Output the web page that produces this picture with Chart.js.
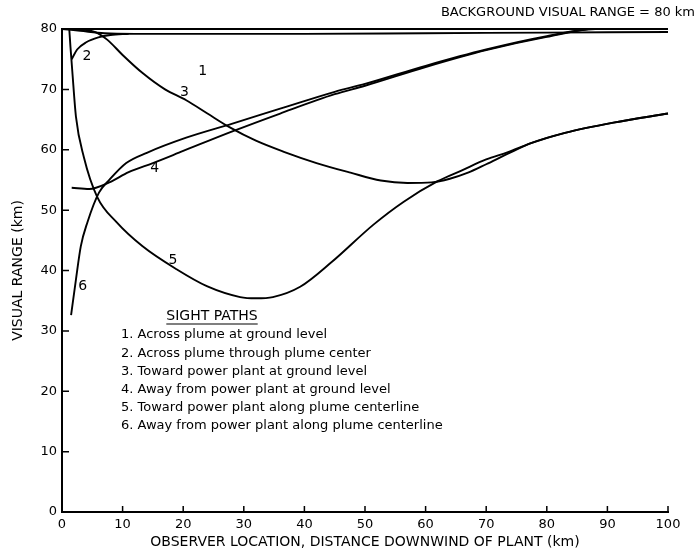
<!DOCTYPE html>
<html>
<head>
<meta charset="utf-8">
<script src="https://cdn.jsdelivr.net/npm/chart.js@4/dist/chart.umd.min.js"></script>
<style>
  html, body { margin: 0; padding: 0; background: #fff; }
  #wrap { width: 700px; height: 558px; }
</style>
</head>
<body>
<div id="wrap"><canvas id="visChart" width="700" height="558"></canvas></div>
<script>
// visual range along each sight path vs. observer distance downwind (km)
const path1X = [0, 3, 7, 12, 25, 40, 60, 80, 100];
const path1Y = [80, 79.7, 79.3, 79.2, 79.2, 79.2, 79.3, 79.4, 79.5];

const path2X = [1.6, 2.5, 4, 6, 8, 11];
const path2Y = [75.0, 76.6, 77.8, 78.6, 79.0, 79.2];

const path3X = [0, 3, 5.5, 7.5, 10, 13.3, 17, 20.5, 24, 27.7, 32, 36.5, 42, 47.6, 52.6, 57, 61, 64, 67, 70, 73.5, 77.4, 83, 91, 100];
const path3Y = [80, 79.9, 79.5, 78.2, 75.7, 72.7, 70.0, 68.2, 66.0, 63.7, 61.5, 59.7, 57.8, 56.2, 54.9, 54.5, 54.6, 55.2, 56.2, 57.6, 59.3, 61.1, 62.8, 64.5, 66.0];

const path4X = [1.6, 4.5, 7.8, 11, 15, 20, 28, 36, 45, 50, 60, 70, 80, 88, 100];
const path4Y = [53.7, 53.5, 54.6, 56.3, 57.8, 59.8, 63.0, 66.0, 69.2, 70.6, 73.7, 76.5, 78.7, 80, 80];

const path5X = [1.2, 1.4, 1.7, 2.3, 3.6, 5.8, 9, 13.3, 18.9, 23.9, 29.4, 32, 34.8, 39.3, 44.5, 51.4, 56.4, 62, 66, 70, 73.6, 77.4, 83, 91, 100];
const path5Y = [80, 77, 73, 65.5, 58.8, 52.2, 48.0, 44.0, 40.2, 37.4, 35.6, 35.4, 35.6, 37.3, 41.4, 47.6, 51.4, 54.8, 56.6, 58.4, 59.6, 61.1, 62.8, 64.5, 66.0];

const path6X = [1.5, 2.3, 3.1, 4.2, 6.1, 7.8, 10.6, 14, 20.5, 28, 36, 45, 50, 60, 70, 80, 88, 100];
const path6Y = [32.6, 38.5, 44.0, 48.0, 52.9, 55.0, 57.8, 59.5, 62.0, 64.3, 66.8, 69.6, 70.9, 73.9, 76.6, 78.8, 80, 80];

const backgroundX = [0, 100];
const backgroundY = [80, 80];

const xTicks = [0, 10, 20, 30, 40, 50, 60, 70, 80, 90, 100];
const yTicks = [0, 10, 20, 30, 40, 50, 60, 70, 80];

const pathNames = [
  "1. Across plume at ground level",
  "2. Across plume through plume center",
  "3. Toward power plant at ground level",
  "4. Away from power plant at ground level",
  "5. Toward power plant along plume centerline",
  "6. Away from power plant along plume centerline"
];

// where each curve number sits (data units)
const curveLabels = [
  { text: "1", x: 23.2, y: 73.0 },
  { text: "2", x: 4.1, y: 75.5 },
  { text: "3", x: 20.2, y: 69.5 },
  { text: "4", x: 15.3, y: 56.9 },
  { text: "5", x: 18.3, y: 41.7 },
  { text: "6", x: 3.4, y: 37.3 }
];

const FONT = "'DejaVu Sans', sans-serif";

function zip(xs, ys) {
  return xs.map((x, i) => ({ x: x, y: ys[i] }));
}

function curve(label, xs, ys) {
  return {
    label: label,
    data: zip(xs, ys),
    showLine: true,
    borderColor: '#000',
    borderWidth: 1.9,
    pointRadius: 0,
    fill: false,
    tension: 0.4,
    cubicInterpolationMode: 'monotone',
    clip: 6
  };
}

// inner tick marks, curve numbers, legend block, top note
const annotations = {
  id: 'annotations',
  afterDraw(chart) {
    const ctx = chart.ctx;
    const xs = chart.scales.x;
    const ys = chart.scales.y;
    ctx.save();
    ctx.strokeStyle = '#000';
    ctx.lineWidth = 1.5;
    ctx.beginPath();
    xTicks.forEach(v => {
      if (v === 0) return;
      const px = xs.getPixelForValue(v);
      ctx.moveTo(px, ys.bottom);
      ctx.lineTo(px, ys.bottom - 6);
    });
    yTicks.forEach(v => {
      if (v === 0) return;
      const py = ys.getPixelForValue(v);
      ctx.moveTo(xs.left, py);
      ctx.lineTo(xs.left + 7, py);
    });
    ctx.stroke();

    ctx.fillStyle = '#000';
    ctx.font = '14px ' + FONT;
    ctx.textAlign = 'center';
    ctx.textBaseline = 'middle';
    curveLabels.forEach(l => {
      ctx.fillText(l.text, xs.getPixelForValue(l.x), ys.getPixelForValue(l.y));
    });

    // legend
    const titleX = 212, titleY = 316;
    ctx.font = '14px ' + FONT;
    ctx.fillText('SIGHT PATHS', titleX, titleY);
    const tw = ctx.measureText('SIGHT PATHS').width;
    ctx.lineWidth = 1.2;
    ctx.beginPath();
    ctx.moveTo(titleX - tw / 2, titleY + 8);
    ctx.lineTo(titleX + tw / 2, titleY + 8);
    ctx.stroke();

    ctx.font = '13px ' + FONT;
    ctx.textAlign = 'left';
    pathNames.forEach((name, i) => {
      ctx.fillText(name, 121, 335 + i * 18.2);
    });

    ctx.font = '13px ' + FONT;
    ctx.textAlign = 'right';
    ctx.fillText('BACKGROUND VISUAL RANGE = 80 km', 695, 13);
    ctx.restore();
  }
};

const ctx = document.getElementById('visChart').getContext('2d');
new Chart(ctx, {
  type: 'scatter',
  data: {
    datasets: [
      curve('background', backgroundX, backgroundY),
      curve('1', path1X, path1Y),
      curve('2', path2X, path2Y),
      curve('3', path3X, path3Y),
      curve('4', path4X, path4Y),
      curve('5', path5X, path5Y),
      curve('6', path6X, path6Y)
    ]
  },
  options: {
    responsive: false,
    animation: false,
    layout: { padding: { top: 29, right: 32, left: 0, bottom: 0 } },
    plugins: {
      legend: { display: false },
      tooltip: { enabled: false }
    },
    scales: {
      x: {
        type: 'linear',
        min: 0,
        max: 100,
        afterFit: s => { s.height = 46; },
        afterBuildTicks: s => { s.ticks = xTicks.map(v => ({ value: v })); },
        grid: { drawOnChartArea: false, drawTicks: false },
        border: { display: true, color: '#000', width: 2 },
        ticks: { color: '#000', padding: 5, maxRotation: 0, font: { family: FONT, size: 13 } },
        title: {
          display: true,
          text: 'OBSERVER LOCATION, DISTANCE DOWNWIND OF PLANT (km)',
          color: '#000',
          padding: { top: 0, bottom: 7 },
          font: { family: FONT, size: 14 }
        }
      },
      y: {
        type: 'linear',
        min: 0,
        max: 80,
        afterFit: s => { s.width = 62; },
        afterBuildTicks: s => { s.ticks = yTicks.map(v => ({ value: v })); },
        grid: { drawOnChartArea: false, drawTicks: false },
        border: { display: true, color: '#000', width: 2 },
        ticks: { color: '#000', padding: 5, font: { family: FONT, size: 13 } },
        title: {
          display: true,
          text: 'VISUAL RANGE (km)',
          color: '#000',
          padding: { top: 10, bottom: 0 },
          font: { family: FONT, size: 14 }
        }
      }
    }
  },
  plugins: [annotations]
});
</script>
</body>
</html>
